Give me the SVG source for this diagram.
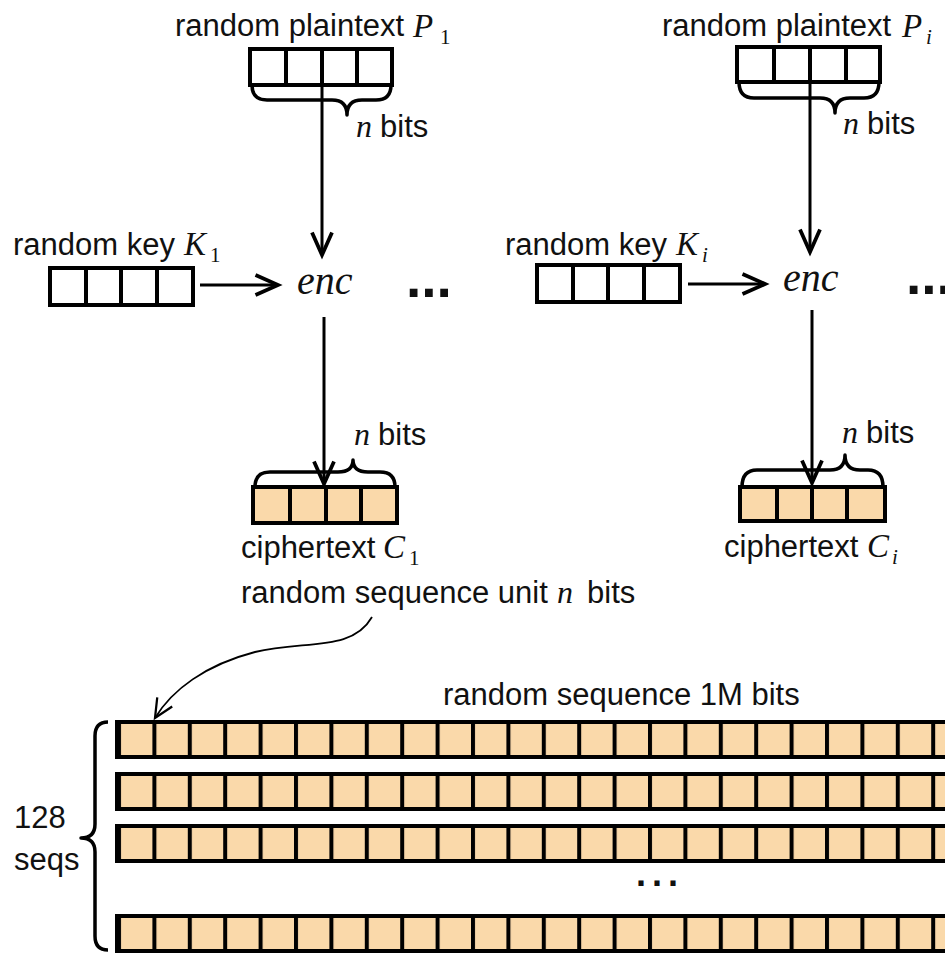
<svg xmlns="http://www.w3.org/2000/svg" width="945" height="953" viewBox="0 0 945 953">
  <style>
    .lbl { font-family: "Liberation Sans", Arial, sans-serif; font-size: 31px; fill: #111; }
    .math { font-family: "Liberation Serif", "Times New Roman", serif; font-style: italic; fill: #111; }
    .sub { font-family: "Liberation Serif", "Times New Roman", serif; font-size: 21px; fill: #111; }
    .box { fill: #fff; stroke: #000; stroke-width: 4; }
    .obox { fill: #fad9aa; stroke: #000; stroke-width: 4; }
    .div { stroke: #000; stroke-width: 4; }
    .brace { fill: none; stroke: #000; stroke-width: 3.5; stroke-linejoin: round; }
    .arrow { fill: none; stroke: #000; stroke-width: 3; marker-end: url(#head); }
    .dots { font-family: "Liberation Sans", Arial, sans-serif; font-weight: bold; fill: #111; }
  </style>
  <defs>
    <marker id="head" markerUnits="userSpaceOnUse" markerWidth="30" markerHeight="30" viewBox="-20 -10 24 20" refX="0" refY="0" orient="auto">
      <path d="M -18 -8 L 0 0 L -18 8" fill="none" stroke="#000" stroke-width="3" stroke-linejoin="miter"/>
    </marker>
    <marker id="thinhead" markerUnits="userSpaceOnUse" markerWidth="30" markerHeight="30" viewBox="-20 -10 24 20" refX="0" refY="0" orient="auto">
      <path d="M -15 -7 L 0 0 L -15 7" fill="none" stroke="#000" stroke-width="1.8"/>
    </marker>
    <pattern id="cells" patternUnits="userSpaceOnUse" x="117" y="0" width="35.4" height="953">
      <rect x="0" y="0" width="35.4" height="953" fill="#fad9aa"/>
      <line x1="0" y1="0" x2="0" y2="953" stroke="#000" stroke-width="8"/>
    </pattern>
  </defs>

  <!-- connectors -->
  <g id="connectors">
    <line class="arrow" x1="322" y1="85" x2="322" y2="255"/>
    <line class="arrow" x1="200" y1="285" x2="278" y2="285"/>
    <line class="arrow" x1="324" y1="317" x2="324" y2="484"/>
    <line class="arrow" x1="810" y1="82" x2="810" y2="252"/>
    <line class="arrow" x1="688" y1="284" x2="765" y2="284"/>
    <line class="arrow" x1="812" y1="310" x2="812" y2="483"/>
    <path d="M 372 617 C 352 652, 305 640, 255 652 C 205 665, 172 690, 155 718" fill="none" stroke="#000" stroke-width="1.8" marker-end="url(#thinhead)"/>
  </g>

  <!-- plaintext P1 -->
  <g id="plaintext-1">
    <text class="lbl" x="175" y="36">random plaintext</text>
    <text class="math" x="413" y="37" font-size="33">P</text>
    <text class="sub" x="440" y="44">1</text>
    <rect class="box" x="250" y="49" width="142" height="36"/>
    <line class="div" x1="286" y1="49" x2="286" y2="85"/>
    <line class="div" x1="322" y1="49" x2="322" y2="85"/>
    <line class="div" x1="357" y1="49" x2="357" y2="85"/>
    <path class="brace" d="M 252 85 Q 252 100 267 100 L 332 100 Q 347 100 347 115 Q 347 100 362 100 L 376 100 Q 391 100 391 85"/>
    <text class="math" x="356" y="137" font-size="32">n</text>
    <text class="lbl" x="380" y="137">bits</text>
  </g>

  <!-- key K1 -->
  <g id="key-1">
    <text class="lbl" x="13" y="255">random key</text>
    <text class="math" x="184" y="255" font-size="33">K</text>
    <text class="sub" x="210" y="262">1</text>
    <rect class="box" x="50" y="268" width="143" height="37"/>
    <line class="div" x1="86" y1="268" x2="86" y2="305"/>
    <line class="div" x1="121" y1="268" x2="121" y2="305"/>
    <line class="div" x1="157" y1="268" x2="157" y2="305"/>
  </g>

  <!-- enc 1 -->
  <g id="enc-1">
    <text class="math" x="297" y="294" font-size="40">enc</text>
  </g>
  <text class="dots" x="406" y="297" font-size="55">...</text>

  <!-- ciphertext C1 -->
  <g id="cipher-1">
    <rect class="obox" x="253" y="487" width="144" height="36"/>
    <line class="div" x1="290" y1="487" x2="290" y2="523"/>
    <line class="div" x1="326" y1="487" x2="326" y2="523"/>
    <line class="div" x1="361" y1="487" x2="361" y2="523"/>
    <path class="brace" d="M 255 487 Q 255 472 270 472 L 338 472 Q 353 472 353 460 Q 353 472 368 472 L 380 472 Q 395 472 395 487"/>
    <text class="math" x="354" y="445" font-size="32">n</text>
    <text class="lbl" x="378" y="445">bits</text>
    <text class="lbl" x="241" y="558">ciphertext</text>
    <text class="math" x="383" y="558" font-size="33">C</text>
    <text class="sub" x="409" y="565">1</text>
  </g>

  <!-- plaintext Pi -->
  <g id="plaintext-i">
    <text class="lbl" x="662" y="36">random plaintext</text>
    <text class="math" x="902" y="37" font-size="33">P</text>
    <text class="math" x="926" y="44" font-size="21">i</text>
    <rect class="box" x="737" y="47" width="143" height="35"/>
    <line class="div" x1="774" y1="47" x2="774" y2="82"/>
    <line class="div" x1="810" y1="47" x2="810" y2="82"/>
    <line class="div" x1="846" y1="47" x2="846" y2="82"/>
    <path class="brace" d="M 739 82 Q 739 98 754 98 L 820 98 Q 835 98 835 113 Q 835 98 850 98 L 864 98 Q 879 98 879 82"/>
    <text class="math" x="843" y="134" font-size="32">n</text>
    <text class="lbl" x="867" y="134">bits</text>
  </g>

  <!-- key Ki -->
  <g id="key-i">
    <text class="lbl" x="505" y="255">random key</text>
    <text class="math" x="676" y="255" font-size="33">K</text>
    <text class="math" x="702" y="262" font-size="21">i</text>
    <rect class="box" x="537" y="265" width="143" height="37"/>
    <line class="div" x1="573" y1="265" x2="573" y2="302"/>
    <line class="div" x1="608" y1="265" x2="608" y2="302"/>
    <line class="div" x1="644" y1="265" x2="644" y2="302"/>
  </g>

  <!-- enc i -->
  <g id="enc-i">
    <text class="math" x="783" y="291" font-size="40">enc</text>
  </g>
  <text class="dots" x="906" y="294" font-size="55">...</text>

  <!-- ciphertext Ci -->
  <g id="cipher-i">
    <rect class="obox" x="740" y="487" width="145" height="34"/>
    <line class="div" x1="777" y1="487" x2="777" y2="521"/>
    <line class="div" x1="812" y1="487" x2="812" y2="521"/>
    <line class="div" x1="847" y1="487" x2="847" y2="521"/>
    <path class="brace" d="M 742 487 Q 742 470 757 470 L 830 470 Q 845 470 845 455 Q 845 470 860 470 L 868 470 Q 883 470 883 487"/>
    <text class="math" x="842" y="443" font-size="32">n</text>
    <text class="lbl" x="866" y="443">bits</text>
    <text class="lbl" x="724" y="557">ciphertext</text>
    <text class="math" x="867" y="557" font-size="33">C</text>
    <text class="math" x="892" y="564" font-size="21">i</text>
  </g>

  <!-- unit label -->
  <g id="unit-label">
    <text class="lbl" x="241" y="603">random sequence unit</text>
    <text class="math" x="557" y="603" font-size="32">n</text>
    <text class="lbl" x="587" y="603">bits</text>
  </g>

  <!-- 128 random sequences -->
  <g id="sequences">
    <text class="lbl" x="443" y="705">random sequence 1M bits</text>
    <rect x="117" y="722" width="850" height="35" fill="url(#cells)" stroke="#000" stroke-width="4"/>
    <rect x="117" y="774" width="850" height="35" fill="url(#cells)" stroke="#000" stroke-width="4"/>
    <rect x="117" y="826" width="850" height="35" fill="url(#cells)" stroke="#000" stroke-width="4"/>
    <rect x="117" y="916" width="850" height="35" fill="url(#cells)" stroke="#000" stroke-width="4"/>
    <text class="dots" x="636" y="886" font-size="36" letter-spacing="6">...</text>
    <path class="brace" d="M 108 722 Q 95 722 95 736 L 95 824 Q 95 838 81 838 Q 95 838 95 852 L 95 936 Q 95 950 108 950"/>
    <text class="lbl" x="14" y="828">128</text>
    <text class="lbl" x="14" y="870">seqs</text>
  </g>
</svg>
